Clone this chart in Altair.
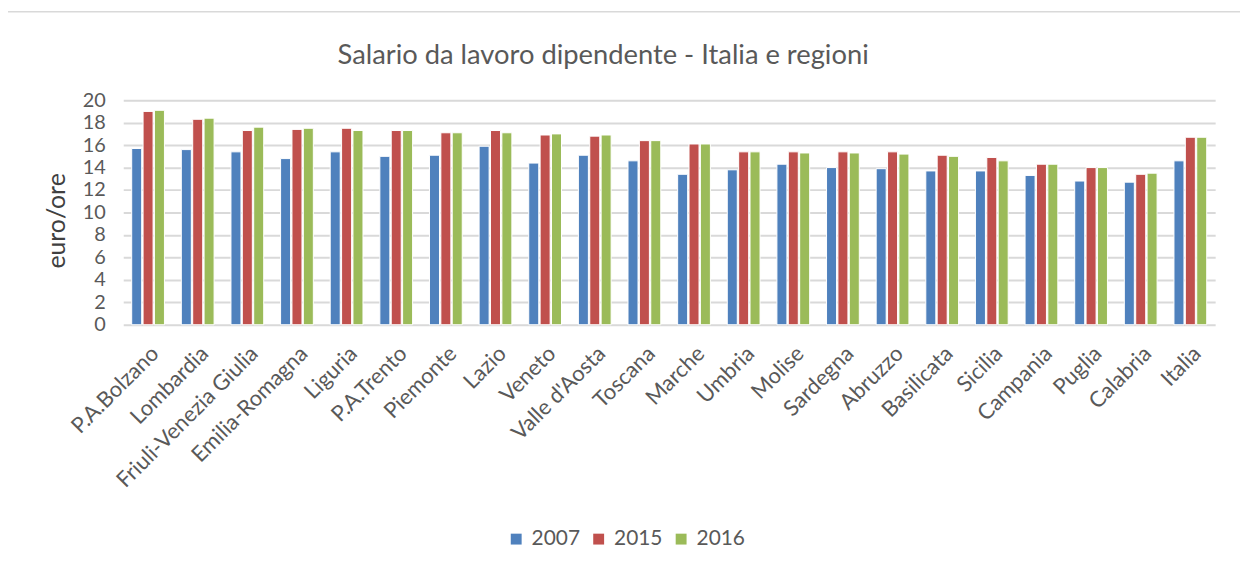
import altair as alt
import pandas as pd

regions = ["P.A.Bolzano", "Lombardia", "Friuli-Venezia Giulia", "Emilia-Romagna", "Liguria",
           "P.A.Trento", "Piemonte", "Lazio", "Veneto", "Valle d'Aosta", "Toscana", "Marche",
           "Umbria", "Molise", "Sardegna", "Abruzzo", "Basilicata", "Sicilia", "Campania",
           "Puglia", "Calabria", "Italia"]
years = ["2007", "2015", "2016"]
v2007 = [15.7, 15.6, 15.4, 14.8, 15.4, 15.0, 15.1, 15.9, 14.4, 15.1, 14.6, 13.4,
         13.8, 14.3, 14.0, 13.9, 13.7, 13.7, 13.3, 12.8, 12.7, 14.6]
v2015 = [19.0, 18.3, 17.3, 17.4, 17.5, 17.3, 17.1, 17.3, 16.9, 16.8, 16.4, 16.1,
         15.4, 15.4, 15.4, 15.4, 15.1, 14.9, 14.3, 14.0, 13.4, 16.7]
v2016 = [19.1, 18.4, 17.6, 17.5, 17.3, 17.3, 17.1, 17.1, 17.0, 16.9, 16.4, 16.1,
         15.4, 15.3, 15.3, 15.2, 15.0, 14.6, 14.3, 14.0, 13.5, 16.7]
colors = ["#4f81bd", "#c0504d", "#9bbb59"]
y_ticks = list(range(0, 21, 2))
title_text = "Salario da lavoro dipendente - Italia e regioni"

rows = []
for yr, vals in zip(years, [v2007, v2015, v2016]):
    for r, v in zip(regions, vals):
        rows.append({"regione": r, "anno": yr, "valore": v})
df = pd.DataFrame(rows)

FONT = "Lato"
GRAY = "#595959"

bars = alt.Chart(df).mark_bar(stroke="white", strokeWidth=1).encode(
    x=alt.X("regione:N", sort=regions, title=None,
            scale=alt.Scale(paddingInner=0.34, paddingOuter=0.17),
            axis=alt.Axis(labelAngle=-45, labelFontSize=22, labelColor=GRAY, labelFont=FONT,
                          labelPadding=18, labelLimit=0, ticks=False, domain=False, grid=False)),
    xOffset=alt.XOffset("anno:N", sort=years, scale=alt.Scale(paddingInner=0.12)),
    y=alt.Y("valore:Q", title="euro/ore",
            scale=alt.Scale(domain=[0, 20], nice=False),
            axis=alt.Axis(values=y_ticks, labelFontSize=20, labelColor=GRAY, labelFont=FONT,
                          labelPadding=18, ticks=False, domain=False,
                          gridColor="#d9d9d9", gridWidth=2,
                          titleFontSize=25, titleFont=FONT, titleColor="#404040",
                          titleFontWeight="normal", titleAngle=-90,
                          titleX=-67, titleY=121, titleAlign="center", titleBaseline="middle")),
    color=alt.Color("anno:N", sort=years, title=None,
                    scale=alt.Scale(domain=years, range=colors),
                    legend=alt.Legend(orient="none", legendX=385, legendY=431,
                                      direction="horizontal", symbolType="square",
                                      symbolSize=120, symbolStrokeWidth=0,
                                      labelFontSize=21, labelColor=GRAY, labelFont=FONT,
                                      columnPadding=8, labelOffset=5)),
)

frame = alt.Chart(alt.Data(values=[{"a": 1}])).mark_rect(
    fill=None, stroke="#d9d9d9", strokeWidth=1.5
).encode(
    x=alt.value(-123), x2=alt.value(1140),
    y=alt.value(-89), y2=alt.value(500),
)

title = alt.Chart(alt.Data(values=[{"t": title_text}])).mark_text(
    font=FONT, fontSize=27.5, color=GRAY, align="center", baseline="middle"
).encode(
    text="t:N", x=alt.value(483), y=alt.value(-44),
)

chart = alt.layer(frame, bars, title).properties(
    width=1099, height=226,
    autosize=alt.AutoSizeParams(type="none"),
    padding={"left": 116, "top": 91, "right": 25, "bottom": 240},
    background="white",
).configure_view(stroke=None)

chart.save("out.html", embed_options={"renderer": "svg", "actions": False})
